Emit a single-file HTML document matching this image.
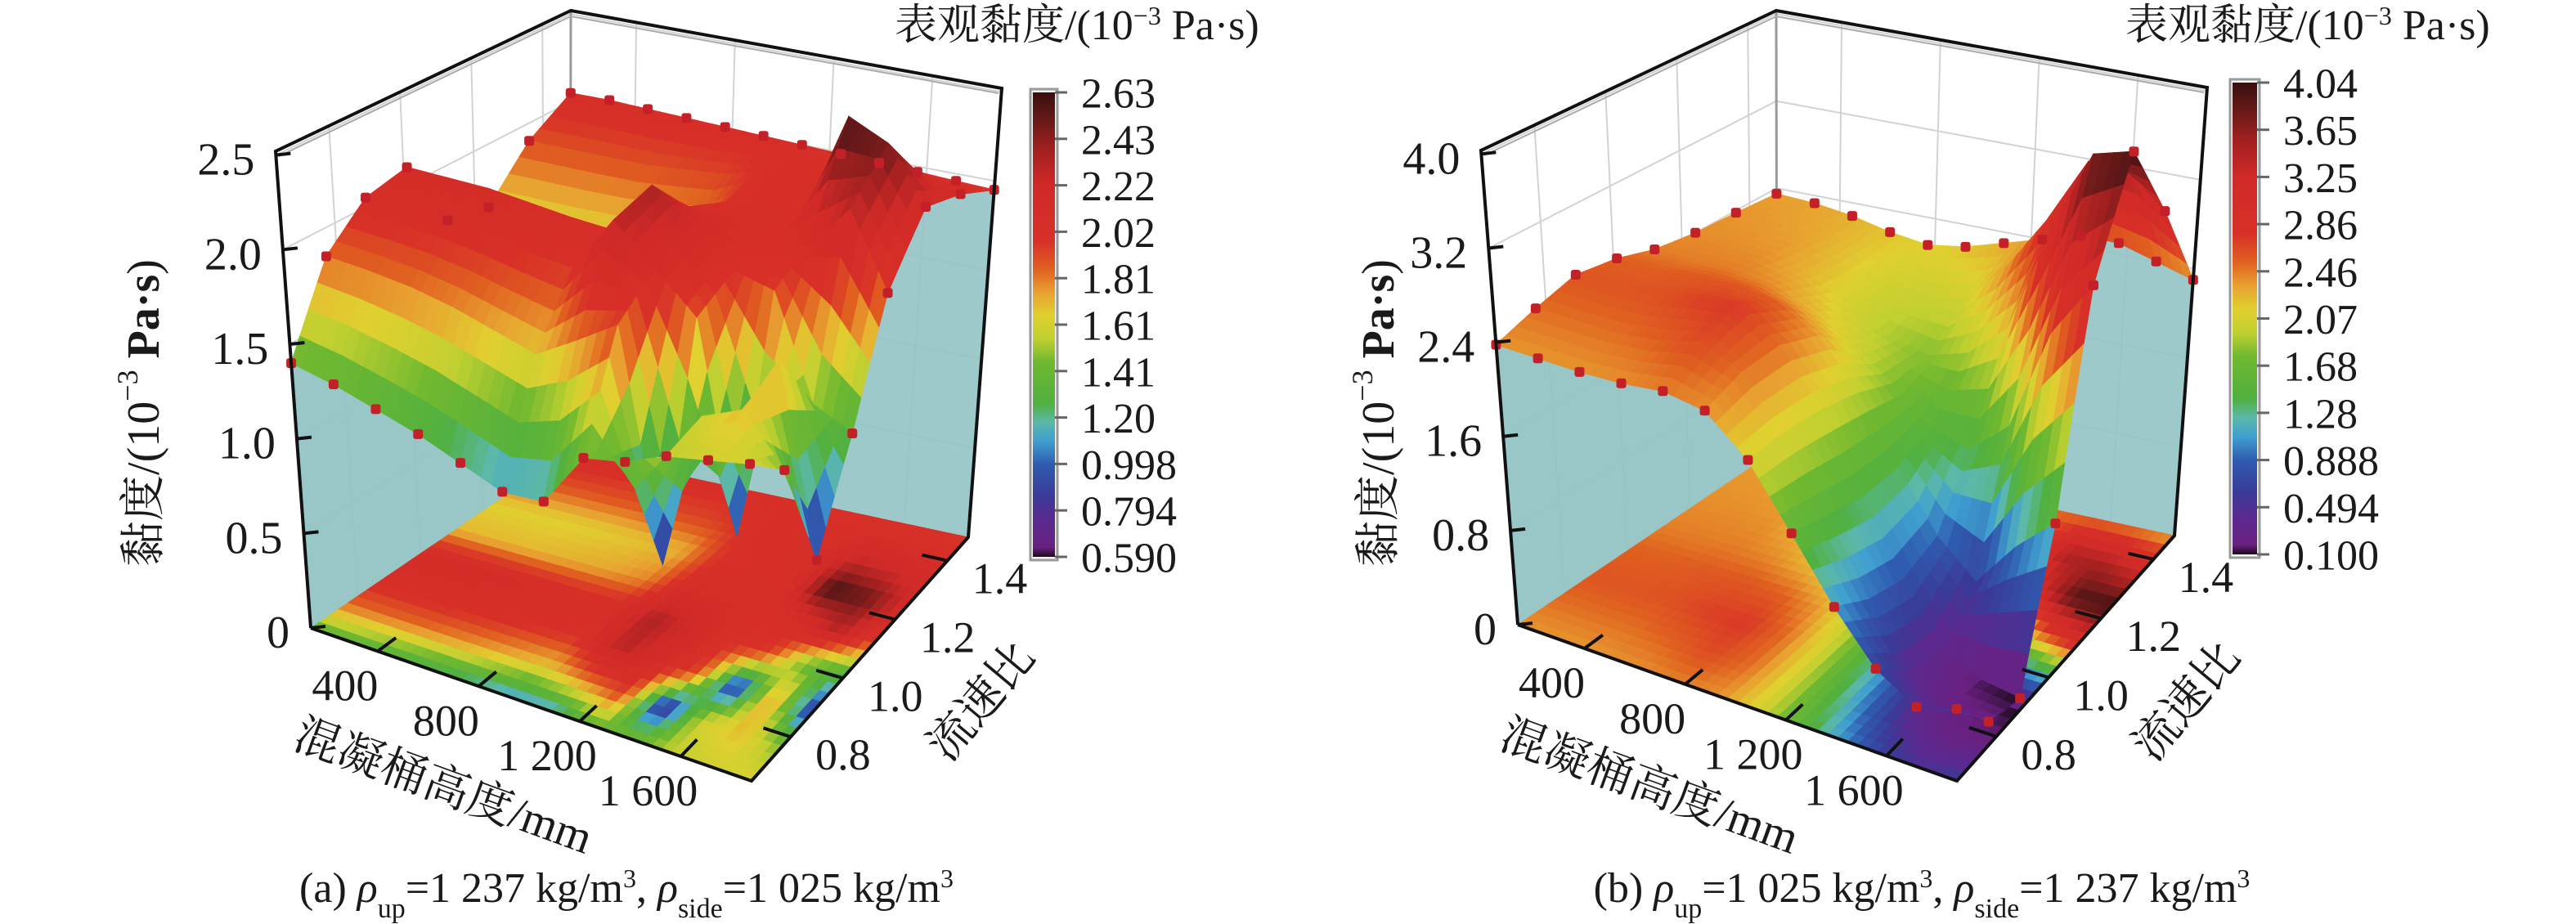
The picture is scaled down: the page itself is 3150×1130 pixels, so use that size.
<!DOCTYPE html>
<html><head><meta charset="utf-8"><title>黏度曲面图</title>
<style>
html,body{margin:0;padding:0;background:#fff;}
svg{display:block;font-family:"Liberation Serif","Noto Serif CJK SC","Noto Sans CJK SC",serif;}
</style></head>
<body>
<svg id="chart" width="3150" height="1130" viewBox="0 0 3150 1130" xmlns="http://www.w3.org/2000/svg">
<defs>
<linearGradient id="cbgrad" x1="0" y1="1" x2="0" y2="0"></linearGradient>
</defs>
<g id="panelA"></g>
<g id="panelB"></g>
</svg>
<script>
// ===== data =====
const heightCats = [135,294,452,611,770,928,1087,1246,1405,1563,1722,1880];
const ratioCats = [0.65,0.77,0.89,1.01,1.12,1.24,1.36,1.48];
const viscA = [
 [1.40,1.85,2.05,2.10,1.70,1.65,1.90,2.05],
 [1.36,1.84,2.05,2.10,1.70,1.65,1.90,2.05],
 [1.30,1.82,2.05,2.10,1.70,1.65,1.90,2.04],
 [1.24,1.78,2.03,2.08,1.72,1.66,1.90,2.03],
 [1.16,1.72,2.00,2.06,1.74,1.68,1.92,2.02],
 [1.08,1.66,1.98,2.05,1.80,1.72,1.94,2.01],
 [1.10,1.80,2.30,2.35,2.10,1.98,2.00,2.00],
 [1.40,1.95,2.10,2.20,2.08,2.02,2.02,1.99],
 [1.45,0.75,1.90,2.00,2.00,2.02,2.04,1.98],
 [1.55,1.60,0.80,1.95,2.05,2.60,2.20,1.97],
 [1.60,1.70,1.80,1.40,2.30,2.50,2.15,1.96],
 [1.65,1.45,0.80,1.30,1.90,2.20,2.10,1.95]
];
const viscB = [
 [2.38,2.50,2.60,2.55,2.45,2.40,2.38,2.35],
 [2.38,2.50,2.60,2.55,2.45,2.40,2.36,2.33],
 [2.38,2.50,2.62,2.58,2.45,2.38,2.32,2.28],
 [2.40,2.55,2.70,2.60,2.40,2.25,2.20,2.20],
 [2.45,2.65,2.75,2.55,2.25,2.05,2.05,2.15],
 [2.40,2.50,2.50,2.35,2.05,1.90,2.00,2.20],
 [2.10,2.10,2.05,1.95,1.80,1.80,2.05,2.30],
 [1.60,1.50,1.40,1.40,1.50,1.90,2.40,2.40],
 [1.10,0.90,0.80,0.90,1.40,2.20,2.90,2.50],
 [0.70,0.40,0.30,0.60,1.70,3.10,3.50,2.50],
 [0.50,0.20,0.15,1.00,2.60,3.90,3.50,2.40],
 [0.60,0.20,0.10,1.30,3.10,4.00,3.20,2.30]
];
const zTicksA = [0,0.5,1.0,1.5,2.0,2.5];
const zTickLabelsA = ["0","0.5","1.0","1.5","2.0","2.5"];
const zTicksB = [0,0.8,1.6,2.4,3.2,4.0];
const zTickLabelsB = ["0","0.8","1.6","2.4","3.2","4.0"];
const hTicks = [400,800,1200,1600];
const hTickLabels = ["400","800","1 200","1 600"];
const rTicks = [0.8,1.0,1.2,1.4];
const rTickLabels = ["0.8","1.0","1.2","1.4"];
const cbLabelsA = ["2.63","2.43","2.22","2.02","1.81","1.61","1.41","1.20","0.998","0.794","0.590"];
const cbLabelsB = ["4.04","3.65","3.25","2.86","2.46","2.07","1.68","1.28","0.888","0.494","0.100"];
const cbRangeA = [0.59,2.63];
const cbRangeB = [0.10,4.04];

// ===== colour map (style) =====
const cmapStops = [[0,'#1a0a1a'],[0.02,'#6a2080'],[0.08,'#5a2a90'],[0.13,'#3a3a98'],[0.2,'#2f5cb0'],[0.25,'#40a0d0'],[0.29,'#5cb8a8'],[0.33,'#50b040'],[0.42,'#70b830'],[0.47,'#c0d030'],[0.52,'#e0d030'],[0.57,'#e8a030'],[0.62,'#e06020'],[0.68,'#d83028'],[0.8,'#d02a28'],[0.88,'#a02020'],[0.95,'#601818'],[1,'#3a0e0e']];
function hex2rgb(h){return [parseInt(h.substr(1,2),16),parseInt(h.substr(3,2),16),parseInt(h.substr(5,2),16)];}
function cmap(t){
  t=Math.max(0,Math.min(1,t));
  for(let i=1;i<cmapStops.length;i++){
    if(t<=cmapStops[i][0]){
      const a=cmapStops[i-1],b=cmapStops[i];
      const f=(t-a[0])/(b[0]-a[0]);
      const ca=hex2rgb(a[1]),cb=hex2rgb(b[1]);
      return 'rgb('+ca.map((c,k)=>Math.round(c+(cb[k]-c)*f)).join(',')+')';
    }
  }
  return cmapStops[cmapStops.length-1][1];
}
const grad=document.getElementById('cbgrad');
cmapStops.forEach(s=>{
  const st=document.createElementNS('http://www.w3.org/2000/svg','stop');
  st.setAttribute('offset',s[0]);st.setAttribute('stop-color',s[1]);grad.appendChild(st);
});

const NS='http://www.w3.org/2000/svg';
function el(tag,attrs,parent){const e=document.createElementNS(NS,tag);for(const k in attrs)e.setAttribute(k,attrs[k]);parent.appendChild(e);return e;}

function buildPanel(root,cfg,data,zTicks,zTickLabels,cbLabels,cbRange,letter,capUp,capSide){
  const h0=heightCats[0],h1=heightCats[heightCats.length-1];
  const r0=ratioCats[0],r1=ratioCats[ratioCats.length-1];
  function bil(P,u,v){
    return [(1-u)*(1-v)*P[0][0]+u*(1-v)*P[1][0]+u*v*P[2][0]+(1-u)*v*P[3][0],
            (1-u)*(1-v)*P[0][1]+u*(1-v)*P[1][1]+u*v*P[2][1]+(1-u)*v*P[3][1]];
  }
  function proj(h,r,z){
    const u=(h-h0)/(h1-h0),v=(r-r0)/(r1-r0),w=z/cfg.zmax;
    const b=bil(cfg.bottom,u,v),t=bil(cfg.top,u,v);
    return [b[0]+(t[0]-b[0])*w,b[1]+(t[1]-b[1])*w];
  }
  function pts(arr){return arr.map(p=>p[0].toFixed(1)+','+p[1].toFixed(1)).join(' ');}
  function colorOf(val){return cmap((val-cbRange[0])/(cbRange[1]-cbRange[0]));}

  const walls=el('g',{},root);
  
  
  el('polygon',{points:pts([proj(h0,r0,0),proj(h0,r1,0),proj(h0,r1,cfg.zmax),proj(h0,r0,cfg.zmax)]),fill:'#ffffff'},walls);
  el('polygon',{points:pts([proj(h0,r1,0),proj(h1,r1,0),proj(h1,r1,cfg.zmax),proj(h0,r1,cfg.zmax)]),fill:'#ffffff'},walls);
  zTicks.forEach(z=>{
    const a=proj(h0,r0,z),b=proj(h0,r1,z),c=proj(h1,r1,z);
    el('polyline',{points:pts([a,b,c]),fill:'none',stroke:'#d2d2d2','stroke-width':2},walls);
  });
  rTicks.forEach(r=>{const a=proj(h0,r,0),b=proj(h0,r,cfg.zmax);el('line',{x1:a[0],y1:a[1],x2:b[0],y2:b[1],stroke:'#d2d2d2','stroke-width':2},walls);});
  hTicks.forEach(h=>{const a=proj(h,r1,0),b=proj(h,r1,cfg.zmax);el('line',{x1:a[0],y1:a[1],x2:b[0],y2:b[1],stroke:'#d2d2d2','stroke-width':2},walls);});
  {const a=proj(h0,r1,0),b=proj(h0,r1,cfg.zmax);el('line',{x1:a[0],y1:a[1],x2:b[0],y2:b[1],stroke:'#9a9a9a','stroke-width':3},walls);}

  const S=4,nx=heightCats.length,ny=ratioCats.length;
  const nu=(nx-1)*S+1,nv=(ny-1)*S+1;
  function sample(fi,fj){
    const i=Math.min(Math.floor(fi),nx-2),j=Math.min(Math.floor(fj),ny-2);
    const a=fi-i,b=fj-j;
    return (1-a)*(1-b)*data[i][j]+a*(1-b)*data[i+1][j]+a*b*data[i+1][j+1]+(1-a)*b*data[i][j+1];
  }
  function catAt(arr,f){const i=Math.min(Math.floor(f),arr.length-2);const a=f-i;return arr[i]+(arr[i+1]-arr[i])*a;}
  const H=[],R=[],V=[];
  for(let a=0;a<nu;a++){H.push(catAt(heightCats,a/S));}
  for(let b=0;b<nv;b++){R.push(catAt(ratioCats,b/S));}
  for(let a=0;a<nu;a++){V.push([]);for(let b=0;b<nv;b++)V[a].push(sample(a/S,b/S));}

  const cur=el('g',{},root);
  
  
  {
    const p=[];for(let a=0;a<nu;a++)p.push(proj(H[a],r0,0));
    for(let a=nu-1;a>=0;a--)p.push(proj(H[a],r0,V[a][0]));
    el('polygon',{points:pts(p),fill:'#93c3c4','fill-opacity':0.95},cur);
    const q=[];for(let b=0;b<nv;b++)q.push(proj(h1,R[b],0));
    for(let b=nv-1;b>=0;b--)q.push(proj(h1,R[b],V[nu-1][b]));
    el('polygon',{points:pts(q),fill:'#93c3c4','fill-opacity':0.9},cur);
  }

  const floor=el('g',{},root);
  
  
  for(let a=0;a<nu-1;a++)for(let b=0;b<nv-1;b++){
    const val=(V[a][b]+V[a+1][b]+V[a+1][b+1]+V[a][b+1])/4;
    const c=colorOf(val);
    const poly=el('polygon',{points:pts([proj(H[a],R[b],0),proj(H[a+1],R[b],0),proj(H[a+1],R[b+1],0),proj(H[a],R[b+1],0)]),fill:c,stroke:c,'stroke-width':0.8},floor);
    
    
  }

  const surf=el('g',{},root);
  
  
  const cells=[];
  for(let a=0;a<nu-1;a++)for(let b=0;b<nv-1;b++)cells.push([a,b]);
  cells.sort((p,q)=>((nu-1-q[0])+q[1])-((nu-1-p[0])+p[1]));
  cells.forEach(([a,b])=>{
    const val=(V[a][b]+V[a+1][b]+V[a+1][b+1]+V[a][b+1])/4;
    const c=colorOf(val);
    const poly=el('polygon',{points:pts([proj(H[a],R[b],V[a][b]),proj(H[a+1],R[b],V[a+1][b]),proj(H[a+1],R[b+1],V[a+1][b+1]),proj(H[a],R[b+1],V[a][b+1])]),fill:c,stroke:c,'stroke-width':1},surf);
    
    
  });

  const dots=el('g',{},root);
  
  
  function dot(h,r,z){
    const p=proj(h,r,z);
    const d=el('rect',{x:p[0]-6,y:p[1]-6,width:12,height:12,rx:3,fill:'#c42028'},dots);
    
    
  }
  heightCats.forEach((h,i)=>{dot(h,r0,data[i][0]);dot(h,r1,data[i][ny-1]);});
  ratioCats.forEach((r,j)=>{if(j>0&&j<ny-1){dot(h0,r,data[0][j]);dot(h1,r,data[nx-1][j]);}});

  const fr=el('g',{},root);
  
  
  const Ab=proj(h0,r0,0),At=proj(h0,r0,cfg.zmax),Bt=proj(h0,r1,cfg.zmax),Dt=proj(h1,r1,cfg.zmax),Db=proj(h1,r1,0),Cb=proj(h1,r0,0);
  el('polyline',{points:pts([Ab,At,Bt,Dt,Db,Cb,Ab]),fill:'none',stroke:'#111','stroke-width':4,'stroke-linejoin':'miter'},fr);
  el('polyline',{points:pts([[At[0]+4,At[1]+6],[Bt[0],Bt[1]+7],[Dt[0]-4,Dt[1]+6]]),fill:'none',stroke:'#aaa','stroke-width':2},fr);

  const zg=el('g',{},root);
  
  
  zTicks.forEach((z,k)=>{
    const p=proj(h0,r0,z);
    el('line',{x1:p[0],y1:p[1],x2:p[0]+18,y2:p[1]-2,stroke:'#111','stroke-width':4},zg);
    const t=el('text',{x:p[0]-26,y:p[1]+6,'text-anchor':'end','dominant-baseline':'central','font-size':56,fill:'#1a1a1a'},zg);
    t.textContent=zTickLabels[k];
    
    
  });
  const hg=el('g',{},root);
  
  
  hTicks.forEach((h,k)=>{
    const p=proj(h,r0,0),q=proj(h,r0+0.06,0);
    el('line',{x1:p[0],y1:p[1],x2:q[0],y2:q[1],stroke:'#111','stroke-width':4},hg);
    const t=el('text',{x:p[0]-40,y:p[1]+42,'text-anchor':'middle','dominant-baseline':'central','font-size':54,fill:'#1a1a1a'},hg);
    t.textContent=hTickLabels[k];
    
    
  });
  const rg=el('g',{},root);
  
  
  rTicks.forEach((r,k)=>{
    const p=proj(h1,r,0),q=proj(h1-110,r,0);
    el('line',{x1:p[0],y1:p[1],x2:q[0],y2:q[1],stroke:'#111','stroke-width':4},rg);
    const t=el('text',{x:p[0]+64,y:p[1]+22,'text-anchor':'middle','dominant-baseline':'central','font-size':54,fill:'#1a1a1a'},rg);
    t.textContent=rTickLabels[k];
    
    
  });

  const yt=el('text',{x:cfg.yTitle[0],y:cfg.yTitle[1],'text-anchor':'middle','dominant-baseline':'central','font-size':56,fill:'#1a1a1a',transform:'rotate(-90 '+cfg.yTitle[0]+' '+cfg.yTitle[1]+')'},root);
  
  
  yt.innerHTML='黏度/(10<tspan baseline-shift="super" font-size="36">−3</tspan> <tspan font-weight="bold">Pa·s</tspan>)';
  const xt=el('text',{x:cfg.xTitle[0],y:cfg.xTitle[1],'text-anchor':'middle','dominant-baseline':'central','font-size':56,fill:'#1a1a1a',transform:'rotate(20 '+cfg.xTitle[0]+' '+cfg.xTitle[1]+')'},root);
  xt.textContent='混凝桶高度/mm';
  
  
  const rt=el('text',{x:cfg.rTitle[0],y:cfg.rTitle[1],'text-anchor':'middle','dominant-baseline':'central','font-size':56,fill:'#1a1a1a',transform:'rotate(-50 '+cfg.rTitle[0]+' '+cfg.rTitle[1]+')'},root);
  rt.textContent='流速比';
  
  

  const cb=el('g',{},root);
  
  
  const [cx,cy,cw,ch]=cfg.cb;
  el('rect',{x:cx-3,y:cy-4,width:cw+6,height:ch+8,fill:'#f4f4f4',stroke:'#9a9a9a','stroke-width':3},cb);
  el('rect',{x:cx,y:cy,width:cw,height:ch,fill:'url(#cbgrad)'},cb);
  cbLabels.forEach((lab,k)=>{
    const y=cy+ch*k/(cbLabels.length-1);
    el('line',{x1:cx+cw,y1:y,x2:cx+cw+15,y2:y,stroke:'#666','stroke-width':3},cb);
    const t=el('text',{x:cx+cw+32,y:y+2,'dominant-baseline':'central','font-size':52,fill:'#1a1a1a'},cb);
    t.textContent=lab;
    
    
  });
  const ct=el('text',{x:cfg.cbTitle[0],y:cfg.cbTitle[1],'font-size':52,fill:'#1a1a1a'},root);
  ct.innerHTML='表观黏度/(10<tspan baseline-shift="super" font-size="32">−3</tspan> Pa·s)';
  
  

  const cap=el('text',{x:cfg.caption[0],y:cfg.caption[1],'text-anchor':'middle','font-size':52,fill:'#1a1a1a'},root);
  cap.innerHTML='('+letter+') <tspan font-style="italic">ρ</tspan><tspan baseline-shift="sub" font-size="34">up</tspan>='+capUp+' kg/m<tspan baseline-shift="super" font-size="32">3</tspan>, <tspan font-style="italic">ρ</tspan><tspan baseline-shift="sub" font-size="34">side</tspan>='+capSide+' kg/m<tspan baseline-shift="super" font-size="32">3</tspan>';
  
  
}

const cfgA={zmax:2.52,
  bottom:[[380,768],[919,955],[1184,657],[697,553]],
  top:[[337,185],[916,363],[1225,108],[698,13]],
  yTitle:[176,505],xTitle:[542,962],rTitle:[1200,858],
  cb:[1263,113,27,568],cbTitle:[1094,48],caption:[766,1103]};
const cfgB={zmax:4.03,
  bottom:[[1856,764],[2393,955],[2659,655],[2173,550]],
  top:[[1811,184],[2390,363],[2699,107],[2172,13]],
  yTitle:[1686,505],xTitle:[2017,962],rTitle:[2674,858],
  cb:[2730,101,30,577],cbTitle:[2599,48],caption:[2350,1103]};

buildPanel(document.getElementById('panelA'),cfgA,viscA,zTicksA,zTickLabelsA,cbLabelsA,cbRangeA,'a','1 237','1 025');
buildPanel(document.getElementById('panelB'),cfgB,viscB,zTicksB,zTickLabelsB,cbLabelsB,cbRangeB,'b','1 025','1 237');
</script>
</body></html>
